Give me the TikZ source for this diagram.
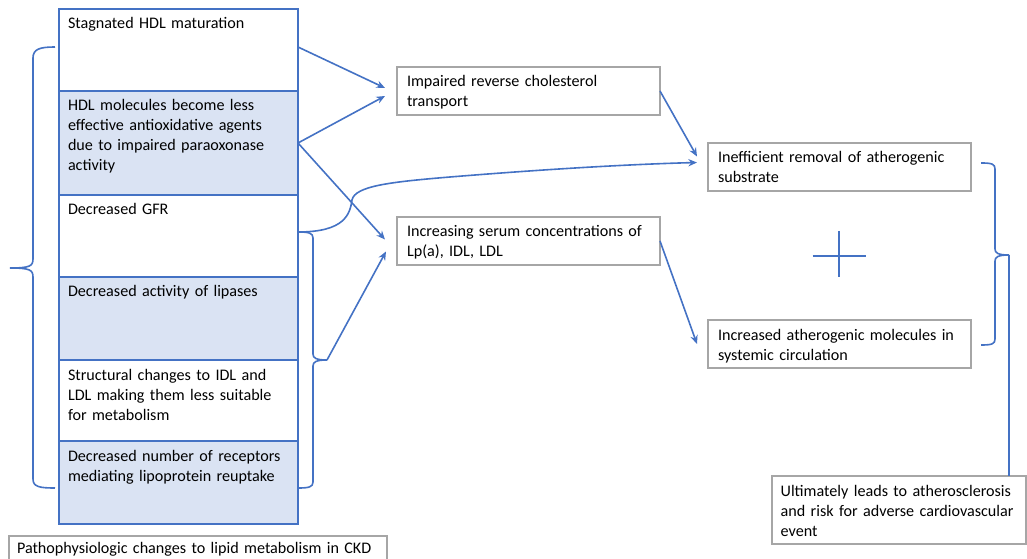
\documentclass[tikz,border=0pt]{standalone}
\usepackage{fontspec}
\setmainfont{Carlito}
\usetikzlibrary{arrows.meta,calc}
\definecolor{lineblue}{RGB}{68,114,196}
\definecolor{cellfill}{RGB}{218,227,243}
\definecolor{boxgray}{RGB}{166,166,166}
\tikzset{>={Stealth[length=6.5pt,width=5.5pt]}}
\tikzset{
  txt/.style={font=\fontsize{12.1}{15}\selectfont, align=left, text height=12pt, inner ysep=3pt, outer sep=0pt},
  cell/.style={txt, draw=lineblue, line width=0.8pt, anchor=north west, inner xsep=6.75pt, text width=165.75pt, text depth=#1},
  infobox/.style={txt, draw=boxgray, line width=0.8pt, anchor=north west, inner xsep=7.5pt, text width=182.25pt, text depth=18pt},
  link/.style={draw=lineblue, line width=1.2pt, ->},
  curly/.style={draw=lineblue, line width=1.2pt}
}
\begin{document}
\begin{tikzpicture}[x=0.75pt, y=-0.75pt]
\useasboundingbox (0,0) rectangle (1027,559);
% left column of changes
\node[cell=43.5pt] (c1) at (59,9) {Stagnated HDL maturation};
\node[cell=60pt, fill=cellfill] (c2) at (c1.south west) {HDL molecules become less\\ effective antioxidative agents\\ due to impaired paraoxonase\\ activity};
\node[cell=43.5pt] (c3) at (c2.south west) {Decreased GFR};
\node[cell=44.25pt, fill=cellfill] (c4) at (c3.south west) {Decreased activity of lipases};
\node[cell=42.75pt] (c5) at (c4.south west) {Structural changes to IDL and\\ LDL making them less suitable\\ for metabolism};
\node[cell=44.25pt, fill=cellfill] (c6) at (c5.south west) {Decreased number of receptors\\ mediating lipoprotein reuptake};
\node[txt, draw=boxgray, line width=0.8pt, anchor=north west, inner xsep=6pt, text width=271.5pt, text height=9.75pt, text depth=20pt] (title) at (9,536) {\mbox{Pathophysiologic changes to lipid metabolism in CKD}};
% consequences
\node[infobox] (imp) at (397,67) {Impaired reverse cholesterol\\ transport};
\node[infobox] (inc) at (397,217) {Increasing serum concentrations of\\ Lp(a), IDL, LDL};
\node[infobox] (ineff) at (708,143) {Inefficient removal of atherogenic\\ substrate};
\node[infobox] (incr) at (708,320) {Increased atherogenic molecules in\\ systemic circulation};
\node[txt, draw=boxgray, line width=0.8pt, anchor=north west, inner xsep=6.5pt, text width=177.5pt, text depth=33pt] (ult) at (772,476) {Ultimately leads to atherosclerosis\\ and risk for adverse cardiovascular\\ event};
% brace tips and arrow ends
\coordinate (sbT) at ($(c3.east)+(0,-4)$);
\coordinate (sbTip) at ($(c5.north east)+(29,0)$);
\coordinate (rbTip) at (1009,255);
\coordinate (t1) at ($(imp.west)+(-12,-3)$);
\coordinate (t2) at ($(imp.west)+(-12,5)$);
\coordinate (t3) at ($(inc.west)+(-12,-1.5)$);
\coordinate (t4) at ($(inc.west)+(-11,10.5)$);
\coordinate (t5) at ($(ineff.west)+(-11,-4.5)$);
\coordinate (t6) at ($(ineff.west)+(-11,-10.5)$);
\coordinate (t7) at ($(incr.west)+(-11,0)$);
\coordinate (plus) at ($(ineff.south)!0.5!(incr.north)+(-0.5,0.5)$);
% braces
\draw[curly] (55,47) .. controls (40,47) and (33,49) .. (33,58) -- (33,259)
  .. controls (33,266) and (30,268) .. (10,268) .. controls (30,268) and (33,270) .. (33,277)
  -- (33,479) .. controls (33,487) and (40,488) .. (55,488);
\draw[curly] (sbT) .. controls (309,232) and (313,233) .. (313,238) -- (313,354)
  .. controls (313,358) and (316,360) .. (sbTip) .. controls (316,360) and (313,362) .. (313,366)
  -- (313,482) .. controls (313,487) and (309,488) .. (298,488);
\draw[curly] (981,163) .. controls (992,163) and (995,164) .. (995,169) -- (995,249)
  .. controls (995,253) and (998,255) .. (rbTip) .. controls (998,255) and (995,257) .. (995,261)
  -- (995,339) .. controls (995,344) and (992,345) .. (981,345);
\draw[curly] (rbTip) -- (rbTip |- ult.north);
% arrows
\draw[link] ($(c1.east)+(0,-3)$) -- (t1);
\draw[link] (c2.east) -- (t2);
\draw[link] (c2.east) -- (t3);
\draw[link] (sbTip) -- (t4);
\draw[link] (sbT) .. controls (345,232) and (350,214) .. (352,200)
  .. controls (355,186) and (390,182) .. (450,177) .. controls (560,168) and (640,164) .. (t5);
\draw[link] (imp.east) -- (t6);
\draw[link] (inc.east) -- (t7);
% plus sign
\draw[curly, line width=1.4pt] ($(plus)+(-26.5,0)$) -- ($(plus)+(26.5,0)$);
\draw[curly, line width=1.4pt] ($(plus)+(0,-25)$) -- ($(plus)+(0,21)$);
\end{tikzpicture}
\end{document}
